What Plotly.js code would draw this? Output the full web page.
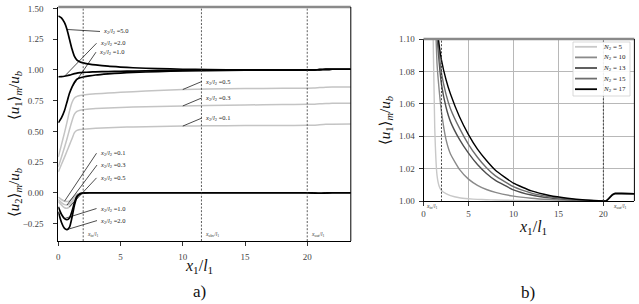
<!DOCTYPE html>
<html><head><meta charset="utf-8">
<script src="https://cdn.plot.ly/plotly-3.0.1.min.js"></script>
<style>html,body{margin:0;padding:0;background:#fff}#chart{width:639px;height:304px}</style>
</head><body><div id="chart"></div><script>
// ---------- panel a) data ----------
const xLeft = [0,0.25,0.5,0.7,0.9,1.1,1.3,1.5,1.75,2,2.5,3,4,5,6,8,10,12,15,18,20,20.5,21,21.5,22,23.5];
const ratioLabels = ['0.1','0.3','0.5','1.0','2.0','5.0'];
const u1_r01 = [0.17,0.23,0.29,0.34,0.39,0.44,0.49,0.508,0.515,0.518,0.522,0.525,0.53,0.533,0.536,0.54,0.543,0.545,0.547,0.548,0.549,0.55,0.554,0.557,0.558,0.559];
const u1_r03 = [0.21,0.29,0.37,0.44,0.515,0.585,0.64,0.662,0.672,0.677,0.682,0.686,0.691,0.695,0.698,0.703,0.707,0.711,0.715,0.718,0.72,0.721,0.725,0.727,0.728,0.728];
const u1_r05 = [0.29,0.39,0.49,0.575,0.665,0.735,0.772,0.785,0.792,0.797,0.802,0.806,0.812,0.818,0.823,0.833,0.841,0.845,0.849,0.851,0.852,0.853,0.857,0.86,0.861,0.862];
const u1_r10 = [0.57,0.61,0.67,0.74,0.81,0.86,0.9,0.925,0.937,0.943,0.952,0.959,0.968,0.975,0.98,0.987,0.992,0.995,0.998,0.999,1.0,1.0,1.003,1.005,1.006,1.006];
const u1_r20 = [0.945,0.946,0.949,0.953,0.958,0.964,0.97,0.975,0.978,0.98,0.983,0.985,0.987,0.989,0.991,0.994,0.996,0.998,0.999,1.0,1.0,1.0,1.003,1.005,1.006,1.006];
const u1_r50 = [1.44,1.425,1.385,1.33,1.25,1.17,1.11,1.08,1.065,1.058,1.048,1.041,1.031,1.024,1.018,1.011,1.006,1.003,1.001,1.0,1.0,1.0,1.003,1.005,1.006,1.006];
const u2_r01 = [-0.035,-0.055,-0.069,-0.072,-0.066,-0.048,-0.028,-0.012,-0.003,0,0,0,0,0,0,0,0,0,0,0,0,-0.002,-0.004,-0.002,0,0];
const u2_r03 = [-0.055,-0.08,-0.097,-0.1,-0.09,-0.066,-0.038,-0.016,-0.004,-0.001,0,0,0,0,0,0,0,0,0,0,0,-0.002,-0.004,-0.002,0,0];
const u2_r05 = [-0.07,-0.1,-0.122,-0.126,-0.115,-0.085,-0.048,-0.02,-0.006,-0.001,0,0,0,0,0,0,0,0,0,0,0,-0.002,-0.004,-0.002,0,0];
const u2_r10 = [-0.115,-0.175,-0.21,-0.22,-0.205,-0.15,-0.08,-0.028,-0.008,-0.002,0,0,0,0,0,0,0,0,0,0,0,-0.002,-0.004,-0.002,0,0];
const u2_r20 = [-0.155,-0.24,-0.29,-0.30,-0.28,-0.2,-0.1,-0.035,-0.01,-0.003,0,0,0,0,0,0,0,0,0,0,0,-0.002,-0.004,-0.002,0,0];
const leftMarkers = [2, 11.5, 20];
const leftMarkerNames = ['in','obv','out'];

// ---------- panel b) data ----------
const xRight = [0.6,0.8,1.0,1.25,1.5,1.75,2,2.5,3,4,5,6,7,8,10,12,14,16,18,20,20.3,20.6,21,21.3,22,23.45];
const nLabels = ['5','10','13','15','17'];
const uN5  = [1.5,1.3,1.13,1.045,1.016,1.009,1.0065,1.0045,1.0033,1.002,1.0014,1.001,1.0008,1.0006,1.0004,1.0002,1.0001,1.0,1.0,1.0,1.0,1.0015,1.0038,1.0046,1.0046,1.0045];
const uN10 = [1.6,1.4,1.22,1.125,1.085,1.068,1.055,1.038,1.029,1.0195,1.0135,1.0097,1.0071,1.0053,1.003,1.0017,1.0009,1.0004,1.00015,1.0,1.0,1.0015,1.0038,1.0046,1.0046,1.0045];
const uN13 = [1.6,1.45,1.3,1.17,1.105,1.085,1.072,1.058,1.049,1.038,1.0295,1.0225,1.017,1.0127,1.0069,1.0037,1.0019,1.0009,1.0003,1.0,1.0,1.0015,1.0038,1.0046,1.0046,1.0045];
const uN15 = [1.6,1.45,1.3,1.18,1.11,1.091,1.079,1.066,1.057,1.045,1.035,1.027,1.0205,1.0155,1.0088,1.0049,1.0026,1.0012,1.0004,1.0,1.0,1.0015,1.0038,1.0046,1.0046,1.0045];
const uN17 = [1.6,1.45,1.32,1.19,1.11,1.096,1.087,1.075,1.066,1.052,1.041,1.032,1.025,1.019,1.011,1.0062,1.0034,1.0017,1.0006,1.0,1.0,1.0015,1.0038,1.0046,1.0046,1.0045];
const rightMarkers = [2, 20];
const rightMarkerNames = ['in','out'];

const SERIF = 'Liberation Serif, DejaVu Serif, serif';
const GRAY = '#c4c4c4';
const DASH = '2px,1.6px';
const traces = [];
function lineL(y, color, w){ traces.push({x:xLeft, y:y, type:'scatter', mode:'lines', xaxis:'x', yaxis:'y', line:{color:color, width:w, shape:'spline', smoothing:0.6}, hoverinfo:'skip', showlegend:false}); }
[u1_r01,u1_r03,u1_r05,u2_r01,u2_r03,u2_r05].forEach(s=>lineL(s, GRAY, 1.5));
[u1_r10,u1_r20,u1_r50,u2_r10,u2_r20].forEach(s=>lineL(s, '#000', 1.7));

const rSeries = [uN5,uN10,uN13,uN15,uN17];
const rColors = ['#c8c8c8','#8a8a8a','#4e4e4e','#6e6e6e','#000000'];
rSeries.forEach((s,i)=>traces.push({x:xRight, y:s, type:'scatter', mode:'lines', xaxis:'x2', yaxis:'y2', name:'N2 = '+nLabels[i], line:{color:rColors[i], width:1.4, shape:'spline', smoothing:0.4}, hoverinfo:'skip', showlegend:false}));

const W = 639, H = 304;
const px = v => v / W, py = v => 1 - v / H;

const ann = [];
const shapes = [];
function leader(series, idx, r, axp, ayp){
  ann.push({xref:'x', yref:'y', x:xLeft[idx], y:series[idx], ax:axp, ay:ayp, showarrow:true, arrowhead:0, arrowwidth:0.7, arrowcolor:'#000', standoff:0, startstandoff:0,
    xanchor:'left', yanchor:'middle', borderpad:2,
    text:'<i>x</i><sub>2</sub>/<i>l</i><sub>2</sub> =' + r, font:{family:SERIF, size:6.5, color:'#222'}});
}
leader(u1_r50, 3, ratioLabels[5], 33, 2);
leader(u1_r20, 2, ratioLabels[4], 32, -33);
leader(u1_r10, 5, ratioLabels[3], 24, -35);
leader(u1_r05, 16, ratioLabels[2], 19, -8);
leader(u1_r03, 16, ratioLabels[1], 19, -8);
leader(u1_r01, 16, ratioLabels[0], 19, -8);
leader(u2_r01, 2, ratioLabels[0], 32, -48);
leader(u2_r03, 3, ratioLabels[1], 30, -40);
leader(u2_r05, 4, ratioLabels[2], 27, -29);
leader(u2_r10, 2, ratioLabels[3], 32, -10);
leader(u2_r20, 3, ratioLabels[4], 30, -9);

leftMarkers.forEach((m,i)=>{
  shapes.push({type:'line', xref:'x', yref:'y domain', x0:m, x1:m, y0:0, y1:1, line:{color:'#333', width:0.8, dash:DASH}});
  ann.push({xref:'x', yref:'y domain', x:m, y:0, xanchor:'left', yanchor:'bottom', xshift:2, yshift:1, showarrow:false,
    text:'<i>x</i><sub>'+leftMarkerNames[i]+'</sub>/<i>l</i><sub>1</sub>', font:{family:SERIF, size:5.5, color:'#333'}});
});
rightMarkers.forEach((m,i)=>{
  shapes.push({type:'line', xref:'x2', yref:'y2 domain', x0:m, x1:m, y0:0, y1:1, line:{color:'#333', width:0.9, dash:DASH}});
  ann.push({xref:'x2', yref:'y2 domain', x:m, y:0, xanchor:i===0?'right':'left', yanchor:'top', xshift:i===0?-1:8, yshift:0, showarrow:false,
    text:'<i>x</i><sub>'+rightMarkerNames[i]+'</sub>/<i>l</i><sub>1</sub>', font:{family:SERIF, size:5.5, color:'#333'}});
});

[['x','y'],['x2','y2']].forEach(([xa,ya])=>{
  shapes.push({type:'line', xref:xa+' domain', yref:ya+' domain', x0:0, x1:1, y0:1, y1:1, line:{color:'#8a8a8a', width:2.5}});
  shapes.push({type:'line', xref:xa+' domain', yref:ya+' domain', x0:1, x1:1, y0:0, y1:1, line:{color:'#000', width:1}});
});

const legL = 573, legT = 42, legR = 630, rowH = 10.6;
shapes.push({type:'rect', xref:'paper', yref:'paper', x0:px(legL), x1:px(legR), y0:py(legT), y1:py(legT + rowH*nLabels.length + 1), line:{color:'#cfcfcf', width:0.8}, fillcolor:'rgba(255,255,255,0.9)', layer:'above'});
nLabels.forEach((n,i)=>{
  const yc = legT + 4.8 + i*rowH;
  shapes.push({type:'line', xref:'paper', yref:'paper', x0:px(legL+2), x1:px(legL+24), y0:py(yc), y1:py(yc), line:{color:rColors[i], width:1.8}, layer:'above'});
  ann.push({xref:'paper', yref:'paper', x:px(legL+28), y:py(yc), xanchor:'left', yanchor:'middle', showarrow:false,
    text:'<i>N</i><sub>2</sub> = '+n, font:{family:SERIF, size:7, color:'#222'}});
});

const yTitle1 = '⟨<i>u</i><sub>1</sub>⟩<sub><i>m</i></sub>/<i>u</i><sub><i>b</i></sub>';
const yTitle2 = '⟨<i>u</i><sub>2</sub>⟩<sub><i>m</i></sub>/<i>u</i><sub><i>b</i></sub>';
const xTitle = '<i>x</i><sub>1</sub>/<i>l</i><sub>1</sub>';
const tf = {family:SERIF, size:15, color:'#111'};
function label(xp, yp, text, font, angle){
  ann.push({xref:'paper', yref:'paper', x:px(xp), y:py(yp), xanchor:'center', yanchor:'middle', textangle:angle||0, showarrow:false, text:text, font:font});
}
label(15, 96, yTitle1, tf, -90);
label(15, 193, yTitle2, tf, -90);
label(386, 120, yTitle1, tf, -90);
label(199, 266, xTitle, {family:SERIF, size:16, color:'#111'});
label(533, 227, xTitle, {family:SERIF, size:16, color:'#111'});
label(199, 291, 'a)', {family:SERIF, size:17, color:'#111'});
label(528, 292, 'b)', {family:SERIF, size:17, color:'#111'});

const tickFont = {family:SERIF, size:9, color:'#444'};
const axBase = {showline:true, linecolor:'#000', linewidth:1, ticks:'outside', ticklen:4, tickcolor:'#000', tickwidth:0.8, tickfont:tickFont, zeroline:false, mirror:false};

const layout = {
  width:W, height:H, margin:{l:0,r:0,t:0,b:0}, paper_bgcolor:'#fff', plot_bgcolor:'#fff', showlegend:false,
  xaxis: Object.assign({}, axBase, {domain:[px(58.3), px(350.8)], range:[0,23.5], tickvals:[0,5,10,15,20], showgrid:false, anchor:'y', ticklabelstandoff:3}),
  yaxis: Object.assign({}, axBase, {domain:[py(241), py(7)], range:[-0.393,1.513], tickvals:[-0.25,0,0.25,0.5,0.75,1.0,1.25,1.5], tickformat:'.2f', showgrid:false, anchor:'x', ticklabelstandoff:8}),
  xaxis2: Object.assign({}, axBase, {domain:[px(423.5), px(634.4)], range:[0,23.45], tickvals:[0,5,10,15,20], showgrid:true, gridcolor:'#b8b8b8', gridwidth:1, anchor:'y2', ticklabelstandoff:0}),
  yaxis2: Object.assign({}, axBase, {domain:[py(201), py(39)], range:[1.0,1.1], tickvals:[1.0,1.02,1.04,1.06,1.08,1.1], tickformat:'.2f', showgrid:true, gridcolor:'#b8b8b8', gridwidth:1, anchor:'x2', ticklabelstandoff:2}),
  shapes: shapes,
  annotations: ann
};
Plotly.newPlot('chart', traces, layout, {staticPlot:true, displayModeBar:false});
</script></body></html>
